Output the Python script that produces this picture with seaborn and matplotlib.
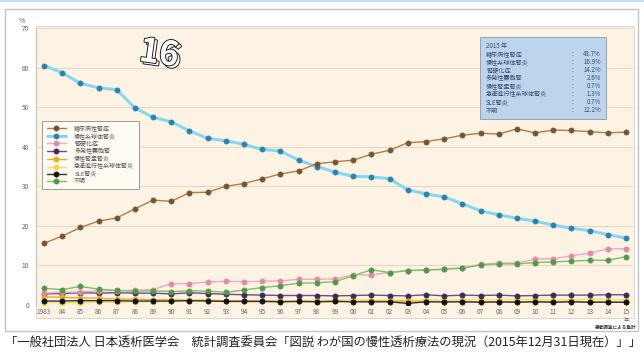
import matplotlib
matplotlib.use("Agg")
import matplotlib.pyplot as plt
import matplotlib.patheffects as pe
from matplotlib.patches import Rectangle
import seaborn as sns
import pandas as pd

sns.set_style("white")
plt.rcParams['font.family'] = ['Noto Sans CJK JP', 'DejaVu Sans']

years = list(range(1983, 2016))
year_labels = ["1983"] + [f"{y % 100:02d}" for y in years[1:]]

diabetic = [15.6, 17.4, 19.6, 21.2, 22.0, 24.3, 26.5, 26.2, 28.4, 28.5, 30.0, 30.7, 31.9,
            33.1, 33.9, 35.7, 36.2, 36.6, 38.1, 39.1, 41.0, 41.3, 42.0, 42.9, 43.4, 43.2,
            44.5, 43.5, 44.2, 44.1, 43.8, 43.5, 43.7]
glomerulo = [60.5, 58.7, 56.0, 54.9, 54.4, 49.8, 47.4, 46.3, 44.0, 42.1, 41.5, 40.6, 39.3,
             38.9, 36.6, 35.0, 33.6, 32.5, 32.4, 31.9, 29.1, 28.1, 27.3, 25.6, 23.8, 22.8,
             21.9, 21.2, 20.2, 19.4, 18.8, 17.8, 16.9]
sclerosis = [3.0, 3.2, 3.3, 3.6, 3.6, 3.7, 3.9, 5.4, 5.4, 5.8, 6.0, 5.9, 6.0, 6.1, 6.5, 6.5,
             6.6, 7.6, 7.6, 8.2, 8.7, 8.9, 9.1, 9.4, 10.3, 10.6, 10.6, 11.6, 11.7, 12.4,
             13.1, 14.2, 14.2]
polycystic = [2.8, 2.9, 3.1, 3.0, 3.1, 3.0, 3.0, 2.8, 3.1, 2.9, 2.7, 2.6, 2.5, 2.4, 2.4,
              2.4, 2.3, 2.4, 2.5, 2.4, 2.3, 2.6, 2.3, 2.5, 2.4, 2.5, 2.3, 2.4, 2.5, 2.5,
              2.5, 2.6, 2.6]
pyelo = [2.1, 1.9, 1.8, 1.7, 1.5, 1.5, 1.3, 1.3, 1.2, 1.2, 1.1, 1.1, 1.0, 1.0, 0.9, 0.9,
         1.0, 0.9, 1.0, 1.0, 0.9, 0.9, 0.8, 0.9, 0.8, 0.8, 0.8, 0.9, 0.8, 0.9, 0.8, 0.8, 0.7]
rpgn = [0.5, 0.6, 0.6, 0.7, 0.7, 0.8, 0.8, 0.9, 1.0, 1.0, 1.0, 1.1, 1.1, 1.0, 1.1, 1.2,
        1.2, 1.3, 1.3, 1.2, 1.2, 1.3, 1.3, 1.3, 1.3, 1.4, 1.4, 1.3, 1.3, 1.3, 1.4, 1.4, 1.3]
sle = [1.0, 1.0, 1.1, 1.1, 1.1, 1.0, 1.0, 1.0, 1.1, 1.0, 0.9, 0.9, 0.9, 0.8, 0.9, 0.8,
       0.9, 0.8, 0.8, 0.8, 0.4, 0.8, 0.8, 0.8, 0.7, 0.8, 0.7, 0.8, 0.7, 0.8, 0.7, 0.7, 0.7]
unknown = [4.2, 3.9, 4.7, 4.0, 3.7, 3.5, 3.6, 3.4, 3.6, 3.5, 3.2, 3.8, 4.4, 4.9, 5.5, 5.6,
           5.9, 7.4, 8.9, 8.2, 8.7, 8.8, 9.0, 9.3, 10.1, 10.4, 10.4, 10.7, 10.9, 11.1,
           11.3, 11.3, 12.2]

names = ["糖尿病性腎症", "慢性糸球体腎炎", "腎硬化症", "多発性嚢胞腎", "慢性腎盂腎炎",
         "急速進行性糸球体腎炎", "SLE腎炎", "不明"]
series = [diabetic, glomerulo, sclerosis, polycystic, pyelo, rpgn, sle, unknown]
summary_2015 = ["43.7%", "16.9%", "14.2%", "2.6%", "0.7%", "1.3%", "0.7%", "12.2%"]

# (line colour, marker colour, line width, z-order)
styles = [
    ("#b47c46", "#7a5430", 1.0, 6),
    ("#86d8f2", "#2b83ab", 2.2, 5),
    ("#f2a8be", "#e488a6", 1.0, 4),
    ("#6a4c8c", "#3c2a58", 1.0, 3),
    ("#f0a830", "#e2b21e", 1.0, 3),
    ("#f6e070", "#f3d544", 1.0, 2),
    ("#333333", "#111111", 1.0, 3),
    ("#7cc06a", "#4e9a47", 1.0, 4),
]

W, H = 644, 354
fig = plt.figure(figsize=(W / 100, H / 100), dpi=100)
fig.patch.set_facecolor("white")


def fx(x):
    return x / W


def fy(y):
    return 1 - y / H


# outer frame and panel background
fig.add_artist(Rectangle((fx(5), fy(331)), (638 - 5) / W, (331 - 9) / H, transform=fig.transFigure,
                         facecolor="white", edgecolor="#c4c4c4", linewidth=1.0, zorder=-10))
fig.add_artist(Rectangle((0, fy(2)), 1, 2 / H, transform=fig.transFigure,
                         facecolor="#bfe6f5", edgecolor="none", zorder=-10))
fig.add_artist(Rectangle((fx(36), fy(318)), (634 - 36) / W, (318 - 26) / H, transform=fig.transFigure,
                         facecolor="#fdf3e4", edgecolor="#d8d0c4", linewidth=0.6, zorder=-9))

ax = fig.add_axes([fx(36), fy(305), (633 - 36) / W, (305 - 28) / H])
ax.set_facecolor("none")

for name, vals, (lc, mc, lw, z) in zip(names, series, styles):
    df = pd.DataFrame({"year": years, "value": vals})
    sns.lineplot(data=df, x="year", y="value", ax=ax, color=lc, linewidth=lw,
                 marker="o", markersize=3.8, markerfacecolor=mc, markeredgecolor=mc,
                 markeredgewidth=0.4, label=name, zorder=z)

ax.set_xlim(1983 - 8 / 18.2, 2015 + 7 / 18.2)
ax.set_ylim(0, 70)
ax.set_yticks(range(0, 71, 10))
ax.set_xticks(years)
ax.set_xticklabels(year_labels)
ax.set_xlabel("")
ax.set_ylabel("")
ax.grid(axis="y", color="#e6d8c4", linewidth=0.8)
ax.set_axisbelow(True)
ax.tick_params(axis="both", labelsize=4.6, colors="#666666", length=0, pad=2)
ax.tick_params(axis="y", pad=5)
for side in ["top", "right", "bottom"]:
    ax.spines[side].set_visible(False)
ax.spines["left"].set_color("#c8c0b4")
ax.spines["left"].set_linewidth(0.8)

leg = ax.legend(loc="upper left", bbox_to_anchor=(0.01, 0.665), fontsize=4.3,
                frameon=True, fancybox=False, framealpha=1, facecolor="#fffaf2",
                edgecolor="#8c8c8c", handlelength=3.2, labelspacing=0.3,
                borderpad=0.8, handletextpad=1.4, borderaxespad=0)
leg.get_frame().set_linewidth(0.6)
for t in leg.get_texts():
    t.set_color("#555555")

# 2015 summary box
fig.add_artist(Rectangle((fx(480), fy(119)), (606 - 480) / W, (119 - 37) / H, transform=fig.transFigure,
                         facecolor="#bcd4ec", edgecolor="#8a98ac", linewidth=0.6, zorder=8))
txt_kw = dict(fontsize=4.4, color="#3a4a68", va="center", zorder=9)
fig.text(fx(486), fy(46), "2015 年", ha="left", **txt_kw)
for i, (name, val) in enumerate(zip(names, summary_2015)):
    yy = 54.5 + i * 8.0
    fig.text(fx(486), fy(yy), name, ha="left", **txt_kw)
    fig.text(fx(572), fy(yy), ":", ha="left", **txt_kw)
    fig.text(fx(601), fy(yy), val, ha="right", **txt_kw)

# axis annotations
fig.text(fx(22), fy(21), "%", fontsize=5, color="#666666", ha="center", va="center")
fig.text(fx(626), fy(320), "年", fontsize=4.0, color="#666666", ha="center", va="center")
fig.text(fx(637), fy(327.5), "患者調査による集計", fontsize=3.3, color="#333333",
         ha="right", va="center", fontweight="bold")

# "16" emblem
for dx, dy in [(2.6, -2.4), (0, 0)]:
    fig.text(fx(159 + dx), fy(54 - dy), "16", fontsize=24, fontweight="bold",
             color="#ffffff", ha="center", va="center", rotation=-8,
             path_effects=[pe.withStroke(linewidth=1.3, foreground="#111111")], zorder=7)

fig.text(fx(323), fy(342),
         "「一般社団法人 日本透析医学会　統計調査委員会「図説 わが国の慢性透析療法の現況（2015年12月31日現在）」」",
         fontsize=8.85, color="#222222", ha="center", va="center")

fig.savefig("out.png", dpi=100)
